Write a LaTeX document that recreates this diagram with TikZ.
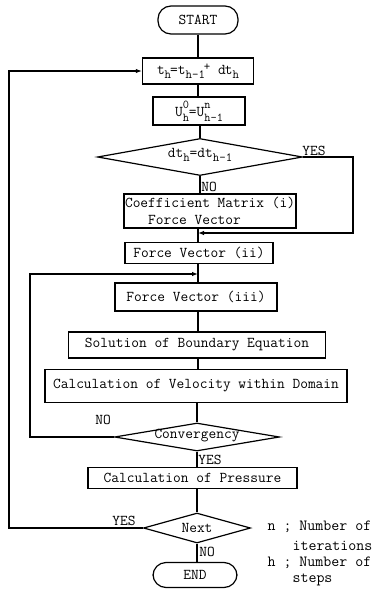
\documentclass[tikz,border=0pt]{standalone}
\usetikzlibrary{shapes.geometric,arrows.meta}
\newcommand\sbx[1]{\raisebox{-0.55ex}{\fontsize{12.5}{13}\selectfont #1}}
\newcommand\spx[1]{\raisebox{0.75ex}{\fontsize{12.5}{13}\selectfont #1}}
\newcommand\spsbx[2]{\rlap{\raisebox{1.25ex}{\fontsize{12}{12}\selectfont #1}}\raisebox{-0.8ex}{\fontsize{12}{12}\selectfont #2}}
\begin{document}
\begin{tikzpicture}[x=1pt,y=-1pt,
  font=\ttfamily\fontsize{15}{17}\selectfont,
  line width=1.1pt,
  box/.style={draw, rectangle, inner sep=0pt, line width=1.4pt},
  term/.style={draw, rectangle, rounded corners=13pt, inner sep=0pt, line width=1.2pt},
  dia/.style={draw, diamond, inner sep=0pt, line width=1.2pt},
  lbl/.style={inner sep=0pt},
  legend/.style={inner sep=0pt, anchor=west, font=\ttfamily\fontsize{15.5}{17}\selectfont},
  arr/.style={-{Latex[length=6pt,width=4.5pt]}}]
\useasboundingbox (0,0) rectangle (390,589);

% nodes
\node[term, minimum width=80pt, minimum height=28pt] (start) at (198,20) {START};
\node[box, minimum width=111pt, minimum height=26pt] (th) at (198,71)
  {t\sbx{h}\kern-1pt=t\sbx{h-1}\kern-1pt\spx{+} d\kern-1pt t\sbx{h}};
\node[box, minimum width=92pt, minimum height=28pt] (u) at (199,111)
  {U\spsbx{0}{h}=U\spsbx{n}{h-1}};
\node[dia, minimum width=205pt, minimum height=37pt] (d1) at (200,157) {};
\node[lbl] (d1t) at (200,155) {dt\sbx{h}=dt\sbx{h-1}};
\node[box, minimum width=172pt, minimum height=34pt, align=left] (coef) at (210,211)
  {Coefficient Matrix (i)\\\hphantom{Coe}Force Vector};
\node[box, minimum width=148pt, minimum height=21pt] (fv2) at (199,253) {Force Vector (ii)};
\node[box, minimum width=162pt, minimum height=28pt] (fv3) at (196,297) {Force Vector (iii)};
\node[box, minimum width=257pt, minimum height=26pt] (sol) at (197,345) {Solution of Boundary Equation};
\node[box, minimum width=302pt, minimum height=33pt] (vel) at (196,386) {Calculation of Velocity within Domain};
\node[dia, minimum width=165pt, minimum height=28pt] (conv) at (197,437) {};
\node[lbl] (convt) at (197,436) {Convergency};
\node[box, minimum width=209pt, minimum height=21pt] (pres) at (192.5,478) {Calculation of Pressure};
\node[dia, minimum width=107pt, minimum height=30pt] (next) at (197,528) {};
\node[lbl] (nextt) at (197,528) {Next};
\node[term, minimum width=84pt, minimum height=25pt] (end) at (195,575) {END};

% coordinates for loops
\coordinate (m1) at (198,233);
\coordinate (m2) at (198,274);
\coordinate (r1) at (353,157);
\coordinate (l1) at (30,437);
\coordinate (l2) at (9,528);

% main spine
\draw (start) -- (th);
\draw (th.south) -- (th.south |- u.north);
\draw (d1.north |- u.south) -- (d1.north);
\draw (d1.south) -- (d1.south |- coef.north);
\draw (m1 |- coef.south) -- (m1 |- fv2.north);
\draw (m2 |- fv2.south) -- (m2 |- fv3.north);
\draw (m2 |- fv3.south) -- (m2 |- sol.north);
\draw (m2 |- sol.south) -- (m2 |- vel.north);
\draw (conv.north |- vel.south) -- (conv.north);
\draw (conv.south) -- (conv.south |- pres.north);
\draw (next.north |- pres.south) -- (next.north);
\draw (next.south) -- (next.south |- end.north);

% loops
\draw[arr] (d1.east) -- (r1) |- (m1);
\draw[arr] (conv.west) -- (l1) |- (m2);
\draw[arr] (next.west) -- (l2) |- (th.west);

% labels
\node[lbl] (yes1) at (314,151) {YES};
\node[lbl] (no1) at (209,187) {NO};
\node[lbl] (no2) at (103,420) {NO};
\node[lbl] (yes2) at (210,460) {YES};
\node[lbl] (yes3) at (124,521) {YES};
\node[lbl] (no3) at (207,552) {NO};

% legend
\node[legend] (lg1) at (267,527) {n ; Number of};
\node[legend] (lg2) at (292,546) {iterations};
\node[legend] (lg3) at (267,563) {h ; Number of};
\node[legend] (lg4) at (292,580) {steps};
\end{tikzpicture}
\end{document}
